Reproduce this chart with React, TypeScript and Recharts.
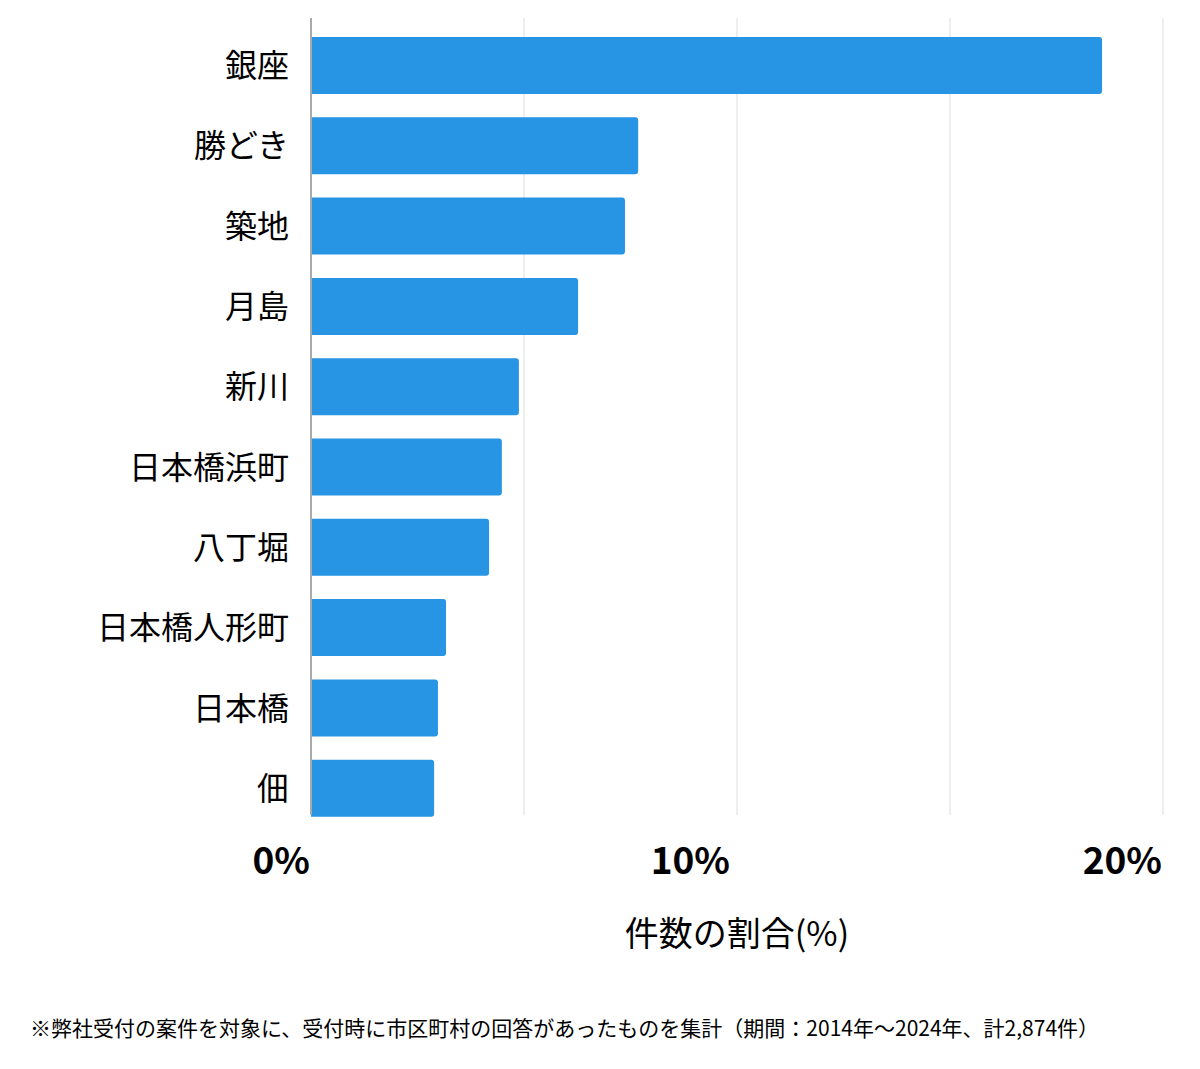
import React from 'react';
import { BarChart, Bar, XAxis, YAxis, CartesianGrid } from 'recharts';

const categories = ['銀座', '勝どき', '築地', '月島', '新川', '日本橋浜町', '八丁堀', '日本橋人形町', '日本橋', '佃'];
const shares = [18.57, 7.68, 7.37, 6.27, 4.88, 4.48, 4.18, 3.17, 2.98, 2.89];
const xTicks = [0, 5, 10, 15, 20];
const xTickLabels: Record<number, string> = { 0: '0%', 10: '10%', 20: '20%' };
const xAxisTitle = '件数の割合(%)';
const footnote = '※弊社受付の案件を対象に、受付時に市区町村の回答があったものを集計（期間：2014年〜2024年、計2,874件）';

const data = categories.map((name, i) => ({ name, value: shares[i] }));

const FONT = '"Noto Sans CJK JP", "Noto Sans", sans-serif';

const XTick = (props: any) => {
  const { x, y, payload, index } = props;
  const label = xTickLabels[payload.value];
  if (!label) return null;
  const isEdge = index === 0 || index === xTicks.length - 1;
  return (
    <text x={x} y={y} dx={isEdge ? -1 : -7} dy={51} textAnchor="end" fontFamily={FONT} fontWeight={700} fontSize={37} fill="#000">
      {label}
    </text>
  );
};

const YTick = (props: any) => {
  const { x, y, payload } = props;
  return (
    <text x={x} y={y} dy={12} textAnchor="end" fontFamily={FONT} fontSize={32} fill="#000">
      {payload.value}
    </text>
  );
};

export default function App() {
  return (
    <div style={{ position: 'absolute', left: 0, top: 0, width: 1200, height: 1069, background: '#fff' }}>
      <BarChart
        width={1200}
        height={1000}
        data={data}
        layout="vertical"
        margin={{ top: 18, right: 37, left: 0, bottom: 0 }}
        barSize={57}
      >
        <CartesianGrid horizontal={false} vertical={true} stroke="#dddddd" />
        <XAxis
          type="number"
          domain={[0, 20]}
          ticks={xTicks}
          axisLine={false}
          tickLine={false}
          height={185}
          tick={<XTick />}
          interval={0}
          label={{ value: xAxisTitle, position: 'insideBottom', offset: 54, fontSize: 34, fill: '#000', fontFamily: FONT }}
        />
        <YAxis
          type="category"
          dataKey="name"
          width={311}
          axisLine={{ stroke: '#aaaaaa', strokeWidth: 2 }}
          tickLine={false}
          tickMargin={16}
          padding={{ top: 7, bottom: -13 }}
          tick={<YTick />}
          interval={0}
        />
        <Bar dataKey="value" fill="#2794e4" radius={[0, 3, 3, 0]} isAnimationActive={false} />
      </BarChart>
      <div
        style={{
          position: 'absolute',
          left: 30,
          top: 1012,
          fontFamily: FONT,
          fontSize: 21,
          lineHeight: '30px',
          color: '#000',
          whiteSpace: 'nowrap',
        }}
      >
        {footnote}
      </div>
    </div>
  );
}
